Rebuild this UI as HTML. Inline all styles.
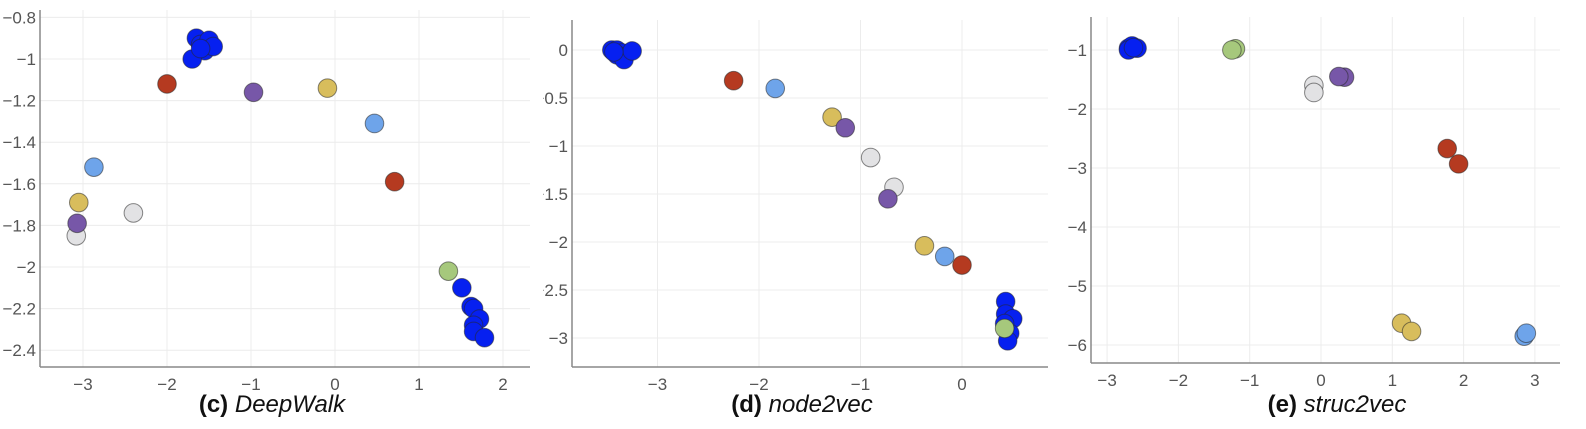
<!DOCTYPE html>
<html><head><meta charset="utf-8"><style>
html,body{margin:0;padding:0;background:#fff;}
svg{display:block;font-family:"Liberation Sans",sans-serif;}
.tick{fill:#555;font-size:17px;}
.cap{fill:#111;font-size:24px;}
</style></head><body>
<svg id="chart" width="1586" height="429" viewBox="0 0 1586 429">
<defs><clipPath id="clipd"><rect x="543" y="0" width="515" height="429"/></clipPath></defs>
<g id="pc"></g>
<g id="pd" clip-path="url(#clipd)"></g>
<g id="pe"></g>
<text class="cap" x="272" y="412" text-anchor="middle"><tspan font-weight="bold">(c)</tspan> <tspan font-style="italic">DeepWalk</tspan></text>
<text class="cap" x="802" y="412" text-anchor="middle"><tspan font-weight="bold">(d)</tspan> <tspan font-style="italic">node2vec</tspan></text>
<text class="cap" x="1337" y="412" text-anchor="middle"><tspan font-weight="bold">(e)</tspan> <tspan font-style="italic">struc2vec</tspan></text>
</svg>
<script>
const COLORS = {B:'#0620f0',R:'#b53a20',P:'#7757a8',Y:'#d8bd5c',L:'#6ea4ea',G:'#e2e2e4',N:'#a6c87c'};
// DeepWalk
const dwX = [-1.65,-1.6,-1.5,-1.55,-1.45,-1.7,-1.6,-2.0,-0.97,-0.09,0.47,0.71,-2.87,-3.05,-2.4,-3.08,-3.07,1.35,1.51,1.62,1.65,1.72,1.65,1.65,1.78];
const dwY = [-0.9,-0.93,-0.91,-0.96,-0.94,-1.0,-0.95,-1.12,-1.16,-1.14,-1.31,-1.59,-1.52,-1.69,-1.74,-1.85,-1.79,-2.02,-2.10,-2.19,-2.2,-2.25,-2.28,-2.31,-2.34];
const dwC = ['B','B','B','B','B','B','B','R','P','Y','L','R','L','Y','G','G','P','N','B','B','B','B','B','B','B'];
const dwXT = ['−3','−2','−1','0','1','2'];
const dwXV = [-3,-2,-1,0,1,2];
const dwYT = ['−0.8','−1','−1.2','−1.4','−1.6','−1.8','−2','−2.2','−2.4'];
const dwYV = [-0.8,-1,-1.2,-1.4,-1.6,-1.8,-2,-2.2,-2.4];
// node2vec
const nvX = [-3.45,-3.4,-3.35,-3.4,-3.33,-3.25,-3.43,-2.25,-1.84,-1.28,-1.15,-0.9,-0.67,-0.73,-0.37,-0.17,0.0,0.43,0.43,0.5,0.47,0.45,0.42,0.42];
const nvY = [0,0,-0.03,-0.05,-0.1,-0.01,-0.02,-0.32,-0.4,-0.7,-0.81,-1.12,-1.43,-1.55,-2.04,-2.15,-2.24,-2.62,-2.75,-2.8,-2.95,-3.03,-2.85,-2.9];
const nvC = ['B','B','B','B','B','B','B','R','L','Y','P','G','G','P','Y','L','R','B','B','B','B','B','B','N'];
const nvXT = ['−3','−2','−1','0'];
const nvXV = [-3,-2,-1,0];
const nvYT = ['0','−0.5','−1','−1.5','−2','−2.5','−3'];
const nvYV = [0,-0.5,-1,-1.5,-2,-2.5,-3];
// struc2vec
const svX = [-2.7,-2.65,-2.58,-2.7,-2.63,-1.2,-1.25,-0.1,-0.1,0.33,0.25,1.77,1.93,1.13,1.27,2.85,2.88];
const svY = [-0.97,-0.93,-0.97,-1.0,-0.96,-0.98,-1.0,-1.6,-1.72,-1.46,-1.45,-2.67,-2.93,-5.63,-5.77,-5.85,-5.8];
const svC = ['B','B','B','B','B','N','N','G','G','P','P','R','R','Y','Y','L','L'];
const svXT = ['−3','−2','−1','0','1','2','3'];
const svXV = [-3,-2,-1,0,1,2,3];
const svYT = ['−1','−2','−3','−4','−5','−6'];
const svYV = [-1,-2,-3,-4,-5,-6];

const NS='http://www.w3.org/2000/svg';
function mk(g,tag,a){const e=document.createElementNS(NS,tag);for(const k in a)e.setAttribute(k,a[k]);g.appendChild(e);return e;}

function panel(id,name,ax,xs,ys,cs,xt,xv,yt,yv){
  const g=document.getElementById(id);
  const sx=v=>ax.x0+v*ax.kx, sy=v=>ax.y0-v*ax.ky;
  xv.forEach((v,i)=>{
    const l=mk(g,'line',{x1:sx(v),x2:sx(v),y1:ax.top,y2:ax.bot,stroke:'#ececec','stroke-width':1});
    
    
    const t=mk(g,'text',{x:sx(v),y:ax.bot+23,'text-anchor':'middle',class:'tick'});t.textContent=xt[i];
    
    
  });
  yv.forEach((v,i)=>{
    const l=mk(g,'line',{x1:ax.left,x2:ax.right,y1:sy(v),y2:sy(v),stroke:'#ececec','stroke-width':1});
    
    
    const t=mk(g,'text',{x:ax.left-4,y:sy(v)+6,'text-anchor':'end',class:'tick'});t.textContent=yt[i];
    
    
  });
  const xa=mk(g,'line',{x1:ax.left,x2:ax.right,y1:ax.bot,y2:ax.bot,stroke:'#888','stroke-width':1.5});
  
  
  const ya=mk(g,'line',{x1:ax.left,x2:ax.left,y1:ax.top,y2:ax.bot,stroke:'#888','stroke-width':1.5});
  
  
  xs.forEach((v,i)=>{
    const c=mk(g,'circle',{cx:sx(v),cy:sy(ys[i]),r:9.3,fill:COLORS[cs[i]],stroke:'rgba(40,40,40,0.55)','stroke-width':1});
    
    
  });
}
panel('pc','deepwalk',{x0:335,kx:84,y0:59-208,ky:208,top:10,bot:367,left:40,right:530},dwX,dwY,dwC,dwXT,dwXV,dwYT,dwYV);
panel('pd','node2vec',{x0:962,kx:101.5,y0:50,ky:96,top:20,bot:367,left:572,right:1048},nvX,nvY,nvC,nvXT,nvXV,nvYT,nvYV);
panel('pe','struc2vec',{x0:1321,kx:71.3,y0:50-59,ky:59,top:17,bot:363,left:1091,right:1560},svX,svY,svC,svXT,svXV,svYT,svYV);
</script>
</body></html>
